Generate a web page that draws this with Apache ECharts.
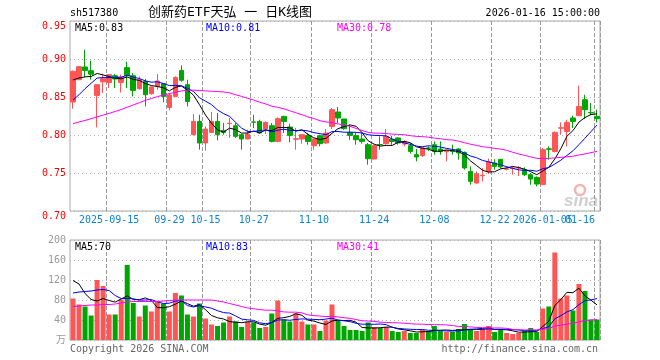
<!DOCTYPE html>
<html><head><meta charset="utf-8">
<script src="https://cdn.jsdelivr.net/npm/echarts@6/dist/echarts.min.js"></script>
<style>html,body{margin:0;padding:0;background:#fff}#c{width:660px;height:360px}</style>
</head><body><div id="c"></div>
<script>
const dates = [
'2025-09-05','2025-09-08','2025-09-09','2025-09-10','2025-09-11','2025-09-12','2025-09-15','2025-09-16','2025-09-17','2025-09-18','2025-09-19','2025-09-22','2025-09-23','2025-09-24','2025-09-25','2025-09-26','2025-09-29','2025-09-30',
'2025-10-09','2025-10-10','2025-10-13','2025-10-14','2025-10-15','2025-10-16','2025-10-17','2025-10-20','2025-10-21','2025-10-22','2025-10-23','2025-10-24','2025-10-27','2025-10-28','2025-10-29','2025-10-30','2025-10-31',
'2025-11-03','2025-11-04','2025-11-05','2025-11-06','2025-11-07','2025-11-10','2025-11-11','2025-11-12','2025-11-13','2025-11-14','2025-11-17','2025-11-18','2025-11-19','2025-11-20','2025-11-21','2025-11-24','2025-11-25','2025-11-26','2025-11-27','2025-11-28',
'2025-12-01','2025-12-02','2025-12-03','2025-12-04','2025-12-05','2025-12-08','2025-12-09','2025-12-10','2025-12-11','2025-12-12','2025-12-15','2025-12-16','2025-12-17','2025-12-18','2025-12-19','2025-12-22','2025-12-23','2025-12-24','2025-12-25','2025-12-26','2025-12-29','2025-12-30','2025-12-31',
'2026-01-05','2026-01-06','2026-01-07','2026-01-08','2026-01-09','2026-01-12','2026-01-13','2026-01-14','2026-01-15','2026-01-16'];

const openP = [0.8434,0.8728,0.8895,0.8846,0.8521,0.8700,0.8692,0.8780,0.8692,0.8886,
0.8780,0.8609,0.8705,0.8543,0.8640,0.8675,0.8363,0.8508,0.8850,0.8662,
0.8004,0.8179,0.7895,0.8034,0.8179,0.8061,0.8150,0.8122,0.8004,0.7947,
0.8172,0.8179,0.8079,0.8122,0.7916,0.8245,0.8105,0.7945,0.7947,0.7995,
0.7859,0.7991,0.7895,0.8113,0.8303,0.8211,0.8034,0.7991,0.7947,0.7872,
0.7684,0.7875,0.7886,0.7945,0.7961,0.7880,0.7860,0.7741,0.7728,0.7830,
0.7872,0.7816,0.7780,0.7795,0.7816,0.7770,0.7521,0.7368,0.7465,0.7515,
0.7632,0.7680,0.7550,0.7560,0.7565,0.7543,0.7478,0.7443,0.7350,0.7818,
0.7784,0.8090,0.8047,0.8224,0.8254,0.8464,0.8295,0.8245];
const closeP = [0.8837,0.8899,0.8850,0.8800,0.8662,0.8740,0.8793,0.8737,0.8763,0.8780,
0.8587,0.8728,0.8530,0.8632,0.8711,0.8508,0.8526,0.8758,0.8720,0.8442,
0.8179,0.7895,0.8079,0.8179,0.8004,0.8034,0.8155,0.7982,0.7947,0.8013,
0.8168,0.8026,0.8166,0.7916,0.8215,0.8179,0.7995,0.7950,0.8004,0.7916,
0.7947,0.7886,0.8026,0.8333,0.8224,0.8083,0.7995,0.7938,0.7916,0.7688,
0.7859,0.7870,0.7982,0.7916,0.7895,0.7916,0.7784,0.7711,0.7829,0.7825,
0.7784,0.7784,0.7795,0.7784,0.7763,0.7566,0.7390,0.7490,0.7470,0.7645,
0.7587,0.7580,0.7555,0.7565,0.7570,0.7478,0.7420,0.7355,0.7807,0.7812,
0.8034,0.8095,0.8166,0.8179,0.8376,0.8333,0.8290,0.8215];
const lowP = [0.8346,0.8720,0.8763,0.8728,0.8100,0.8553,0.8618,0.8618,0.8560,0.8618,
0.8508,0.8596,0.8376,0.8530,0.8596,0.8429,0.8324,0.8500,0.8700,0.8376,
0.7995,0.7807,0.7793,0.8026,0.7929,0.8004,0.7961,0.7961,0.7807,0.7947,
0.8092,0.8013,0.8013,0.7903,0.7903,0.8026,0.7903,0.7807,0.7886,0.7872,
0.7807,0.7850,0.7886,0.8079,0.8158,0.8070,0.7938,0.7872,0.7886,0.7609,
0.7680,0.7807,0.7872,0.7872,0.7872,0.7850,0.7755,0.7653,0.7711,0.7790,
0.7741,0.7741,0.7653,0.7741,0.7675,0.7545,0.7346,0.7360,0.7390,0.7490,
0.7543,0.7560,0.7535,0.7478,0.7460,0.7460,0.7346,0.7324,0.7340,0.7674,
0.7771,0.8004,0.7850,0.8092,0.8254,0.8211,0.8260,0.8166];
const highP = [0.8850,0.8905,0.9122,0.8978,0.8665,0.8807,0.8795,0.8802,0.8793,0.8964,
0.8816,0.8771,0.8737,0.8641,0.8802,0.8684,0.8553,0.8771,0.8916,0.8728,
0.8276,0.8267,0.8113,0.8303,0.8290,0.8158,0.8224,0.8158,0.8013,0.8070,
0.8267,0.8201,0.8179,0.8158,0.8232,0.8254,0.8149,0.8092,0.8004,0.8026,
0.7947,0.8004,0.8079,0.8355,0.8368,0.8211,0.8136,0.8026,0.8026,0.7895,
0.7872,0.7982,0.8079,0.7990,0.7970,0.7930,0.7893,0.7816,0.7838,0.7850,
0.7916,0.7916,0.7798,0.7872,0.7829,0.7784,0.7587,0.7521,0.7566,0.7690,
0.7680,0.7680,0.7580,0.7590,0.7590,0.7575,0.7500,0.7455,0.7829,0.7850,
0.8047,0.8166,0.8201,0.8254,0.8649,0.8530,0.8420,0.8333];
const volume = [83,71,67,49,120,108,51,51,81,150,
74,47,69,57,77,73,57,94,89,51,
47,73,43,31,28,35,47,37,26,37,
35,24,26,53,79,41,37,53,37,31,
31,18,39,71,39,28,20,20,18,35,
26,24,26,18,16,18,14,14,20,18,
28,18,16,16,22,32,22,18,22,28,
16,22,14,12,14,18,24,16,63,67,
175,83,89,59,112,98,41,41];

const ma5Head = [0.8725,0.8750,0.8765,0.8770];
const ma10Head = [0.846,0.853,0.861,0.868,0.875,0.8755,0.8755,0.876,0.876];
const ma30Head = [0.8149,0.8171,0.8192,0.8215,0.8238,0.8262,0.8285,0.8310,0.8335,0.8365,
0.8395,0.8425,0.8455,0.8480,0.8505,0.8525,0.8545,0.8562,0.8580,0.8590,
0.8590,0.8585,0.8580,0.8576,0.8572,0.8566,0.8555,0.8530,0.8508];
const vma5Head = [119,112,93,81];
const vma10Head = [94,96,97,98,100,101,99,89,83];
const vma30Head = [67,68,69,70,70,71,71,72,74,76,77,77,77,77,77,78,79,80,80,80,80,80,80,80,78,76,73,70,67];

const tickDates = ['2025-09-15','2025-09-29','2025-10-15','2025-10-27','2025-11-10','2025-11-24','2025-12-08','2025-12-22','2026-01-05','2026-01-16'];
const tickLabels = ['2025-09-15','09-29','10-15','10-27','11-10','11-24','12-08','12-22','2026-01-05','01-16'];

function movAvg(arr, n, head) {
  return arr.map((v, i) => {
    if (i < n - 1) return head[i];
    let s = 0; for (let k = i - n + 1; k <= i; k++) s += arr[k];
    return s / n;
  });
}
const ma5 = movAvg(closeP, 5, ma5Head), ma10 = movAvg(closeP, 10, ma10Head), ma30 = movAvg(closeP, 30, ma30Head);
const vma5 = movAvg(volume, 5, vma5Head), vma10 = movAvg(volume, 10, vma10Head), vma30 = movAvg(volume, 30, vma30Head);

const RED = '#ff5555', GREEN = '#00a600', MONO = 'DejaVu Sans Mono, monospace', BLUE_LBL = '#0a84d4';
const tickIdx = tickDates.map(d => dates.indexOf(d));
const lastIdx = dates.length - 1;
const last = a => a[a.length - 1];
const isTick = (i) => tickIdx.indexOf(i) >= 0;

const chart = echarts.init(document.getElementById('c'), null, { renderer: 'canvas' });

function txt(x, y, text, color, align, size, family) {
  return { type: 'text', x: x, y: y, silent: true, z: 100,
    style: { text: text, fill: color, align: align || 'left', verticalAlign: 'middle',
      fontSize: size || 10, fontFamily: family || MONO } };
}
const labelFmt = (v) => { const k = tickDates.indexOf(v); return k < 0 ? '' : tickLabels[k]; };

const option = {
  animation: false,
  backgroundColor: '#fff',
  grid: [
    { left: 70, right: 60, top: 21, height: 190, show: true, borderColor: '#a8a8a8', borderWidth: 1, backgroundColor: 'transparent' },
    { left: 70, right: 60, top: 240, height: 100, show: true, borderColor: '#a8a8a8', borderWidth: 1, backgroundColor: 'transparent' }
  ],
  xAxis: [
    { type: 'category', gridIndex: 0, data: dates, boundaryGap: true,
      axisLine: { show: false }, axisTick: { show: false },
      splitLine: { show: true, interval: isTick, lineStyle: { color: '#999999', type: 'dashed', width: 1 } },
      axisLabel: { interval: (i) => i !== lastIdx && isTick(i), hideOverlap: false,
        color: BLUE_LBL, fontFamily: MONO, fontSize: 10, margin: 4, formatter: labelFmt } },
    { type: 'category', gridIndex: 1, data: dates, boundaryGap: true,
      axisLine: { show: false }, axisTick: { show: false },
      splitLine: { show: true, interval: isTick, lineStyle: { color: '#999999', type: 'dashed', width: 1 } },
      axisLabel: { show: false } },
    { type: 'category', gridIndex: 0, position: 'bottom', data: dates, boundaryGap: true,
      axisLine: { show: false }, axisTick: { show: false }, splitLine: { show: false },
      axisLabel: { interval: (i) => i === lastIdx, showMaxLabel: true, hideOverlap: false,
        color: BLUE_LBL, fontFamily: MONO, fontSize: 10, margin: 4,
        formatter: (v) => { const s = labelFmt(v); return s ? '{r|' + s + '}' : ''; },
        rich: { r: { padding: [0, 34, 0, 0], color: BLUE_LBL, fontFamily: MONO, fontSize: 10 } } } }
  ],
  yAxis: [
    { type: 'value', gridIndex: 0, min: 0.70, max: 0.95, interval: 0.05,
      axisLine: { show: false }, axisTick: { show: false },
      splitLine: { lineStyle: { color: '#b0b0b0', type: [1, 3] } },
      axisLabel: { color: '#ff0000', fontFamily: MONO, fontSize: 10, margin: 4,
        formatter: (v) => { const s = v.toFixed(2); return (v > 0.949 || v < 0.701) ? '{e|' + s + '}' : s; },
        rich: { e: { padding: [11, 0, 0, 0], color: '#ff0000', fontFamily: MONO, fontSize: 10 } } } },
    { type: 'value', gridIndex: 1, min: 0, max: 200, interval: 40,
      axisLine: { show: false }, axisTick: { show: false },
      splitLine: { lineStyle: { color: '#b0b0b0', type: [1, 3] } },
      axisLabel: { color: '#999999', fontFamily: MONO, fontSize: 10, margin: 4, formatter: (v) => v === 0 ? '' : String(v) } }
  ],
  series: [
    { type: 'candlestick', xAxisIndex: 0, yAxisIndex: 0, barWidth: 5, z: 2,
      data: openP.map((o, i) => [o, closeP[i], lowP[i], highP[i]]),
      itemStyle: { color: RED, color0: GREEN, borderColor: RED, borderColor0: GREEN, borderWidth: 1 } },
    { type: 'line', xAxisIndex: 0, yAxisIndex: 0, data: ma5, symbol: 'none', z: 4, lineStyle: { color: '#000000', width: 1 } },
    { type: 'line', xAxisIndex: 0, yAxisIndex: 0, data: ma10, symbol: 'none', z: 4, lineStyle: { color: '#0000ff', width: 1 } },
    { type: 'line', xAxisIndex: 0, yAxisIndex: 0, data: ma30, symbol: 'none', z: 4, lineStyle: { color: '#ff00ff', width: 1 } },
    { type: 'bar', xAxisIndex: 1, yAxisIndex: 1, barWidth: 5, z: 2,
      data: volume.map((v, i) => ({ value: v, itemStyle: { color: closeP[i] >= openP[i] ? RED : GREEN } })) },
    { type: 'line', xAxisIndex: 1, yAxisIndex: 1, data: vma5, symbol: 'none', z: 4, lineStyle: { color: '#000000', width: 1 } },
    { type: 'line', xAxisIndex: 1, yAxisIndex: 1, data: vma10, symbol: 'none', z: 4, lineStyle: { color: '#0000ff', width: 1 } },
    { type: 'line', xAxisIndex: 1, yAxisIndex: 1, data: vma30, symbol: 'none', z: 4, lineStyle: { color: '#ff00ff', width: 1 } }
  ],
  graphic: [
    txt(70, 13, 'sh517380', '#000'),
    txt(230, 13, '创新药ETF天弘 一 日K线图', '#000', 'center', 13, 'DejaVu Sans Mono, Noto Sans CJK SC'),
    txt(600, 13, '2026-01-16 15:00:00', '#000', 'right'),
    txt(75, 28, 'MA5:' + last(ma5).toFixed(2), '#000'),
    txt(206, 28, 'MA10:' + last(ma10).toFixed(2), '#0000ff'),
    txt(337, 28, 'MA30:' + last(ma30).toFixed(2), '#ff00ff'),
    txt(75, 247, 'MA5:' + Math.round(last(vma5)), '#000'),
    txt(206, 247, 'MA10:' + Math.round(last(vma10)), '#0000ff'),
    txt(337, 247, 'MA30:' + Math.round(last(vma30)), '#ff00ff'),
    txt(66, 339, '万', '#999999', 'right', 10, 'Noto Sans CJK SC'),
    txt(70, 349, 'Copyright 2026 SINA.COM', '#666666'),
    txt(598, 349, 'http://finance.sina.com.cn', '#666666', 'right'),
    { type: 'circle', silent: true, z: 0, shape: { cx: 580, cy: 190, r: 5 }, style: { fill: 'none', stroke: '#f4b3b3', lineWidth: 2.5 } },
    { type: 'text', silent: true, z: 0, x: 581, y: 201, style: { text: 'sina', fill: '#cfcfcf', align: 'center', verticalAlign: 'middle', font: 'italic bold 17px Liberation Sans' } }
  ]
};
chart.setOption(option);
</script></body></html>
